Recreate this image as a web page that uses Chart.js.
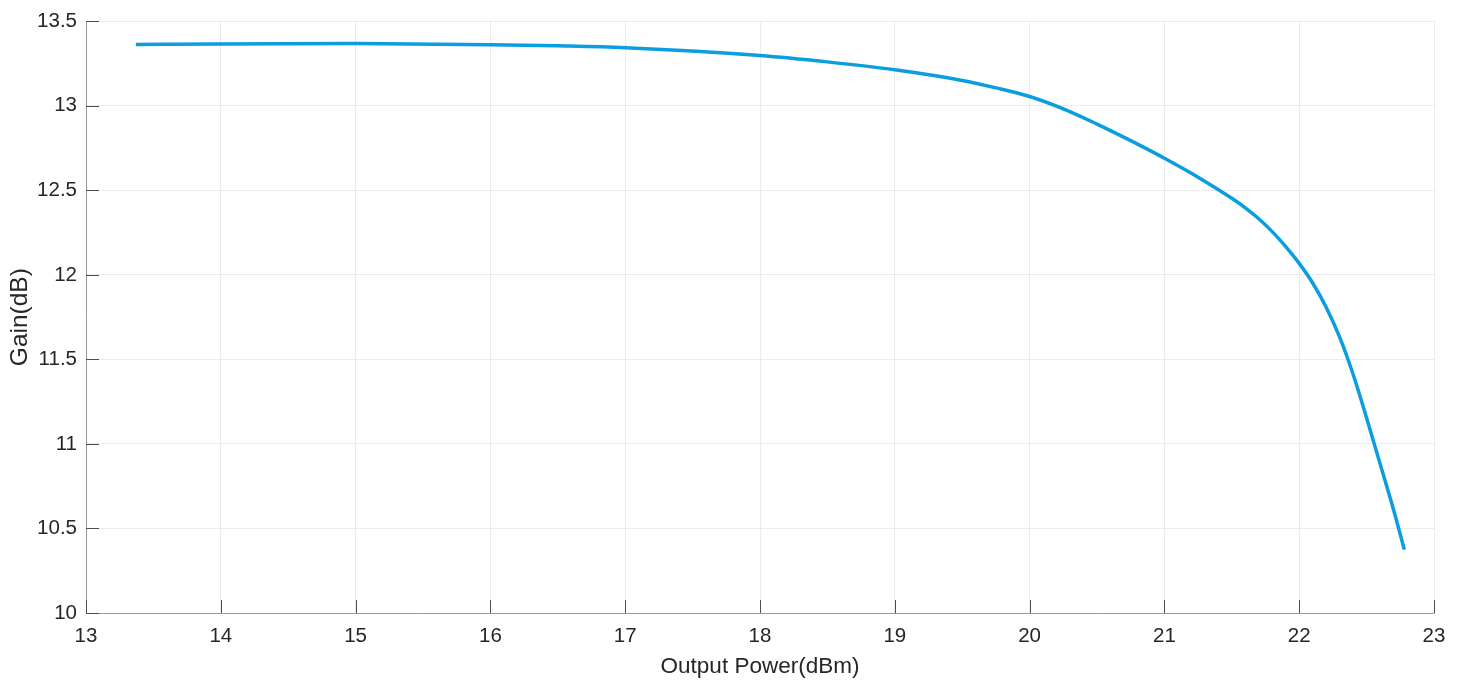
<!DOCTYPE html>
<html lang="en">
<head>
  <meta charset="UTF-8">
  <title>Gain vs Output Power</title>
  <script src="https://cdn.jsdelivr.net/npm/chart.js"></script>
  <style>
    body { margin: 0; background: #fff; }
    canvas { display: block; }
  </style>
</head>
<body>
  <canvas id="gain" width="1466" height="682"></canvas>

  <script>
    // measured sweep: output power (dBm) against gain (dB)
    const outputPower = [13.37, 14.0, 15.0, 16.0, 16.5, 17.0, 18.0, 18.5, 19.0, 19.5, 19.75, 20.0, 20.25, 20.5, 20.75,
      21.0, 21.25, 21.5, 21.6, 21.7, 21.8, 21.9, 22.0, 22.1, 22.2, 22.3, 22.4, 22.5, 22.6, 22.7, 22.78];
    const gain = [13.363, 13.366, 13.368, 13.362, 13.355, 13.344, 13.298, 13.26, 13.213, 13.15, 13.106, 13.055, 12.982, 12.892, 12.794,
      12.69, 12.578, 12.453, 12.397, 12.332, 12.256, 12.167, 12.068, 11.952, 11.809, 11.632, 11.412, 11.154, 10.883, 10.611, 10.375];
    const xTicks = [13, 14, 15, 16, 17, 18, 19, 20, 21, 22, 23];
    const yTicks = [10, 10.5, 11, 11.5, 12, 12.5, 13, 13.5];

    const family = "'Liberation Sans', Arial, sans-serif";
    const tickFont = { family, size: 20.5 };
    const ink = '#262626';

    // short tick marks pointing into the plot, matlab style
    const innerTicks = {
      id: 'innerTicks',
      afterDatasetsDraw(chart) {
        const { ctx, chartArea: a, scales: { x, y } } = chart;
        const len = 13;
        ctx.save();
        ctx.strokeStyle = '#4d4d4d';
        ctx.lineWidth = 1;
        ctx.beginPath();
        xTicks.forEach(v => {
          const px = Math.round(x.getPixelForValue(v)) + 0.5;
          ctx.moveTo(px, a.bottom);
          ctx.lineTo(px, a.bottom - len);
        });
        yTicks.forEach(v => {
          const py = Math.round(y.getPixelForValue(v)) + 0.5;
          ctx.moveTo(a.left, py);
          ctx.lineTo(a.left + len, py);
        });
        ctx.stroke();
        ctx.restore();
      }
    };

    new Chart(document.getElementById('gain'), {
      type: 'line',
      data: {
        datasets: [{
          data: outputPower.map((p, i) => ({ x: p, y: gain[i] })),
          borderColor: '#0a9ee0',
          borderWidth: 3.5,
          pointRadius: 0,
          cubicInterpolationMode: 'monotone',
          fill: false
        }]
      },
      options: {
        responsive: false,
        animation: false,
        layout: { padding: { top: 16, right: 32, left: 0, bottom: 0 } },
        plugins: { legend: { display: false }, tooltip: { enabled: false } },
        scales: {
          x: {
            type: 'linear',
            min: 13, max: 23,
            afterBuildTicks: s => { s.ticks = xTicks.map(v => ({ value: v })); },
            afterFit: s => { s.height = 69; },
            grid: { color: '#ebebeb', drawTicks: false },
            border: { color: '#9a9a9a' },
            ticks: { font: tickFont, color: ink, padding: 11, maxRotation: 0, callback: v => String(v) },
            title: { display: true, text: 'Output Power(dBm)', font: { family, size: 22.5 }, color: ink, padding: { top: 0, bottom: 2 } }
          },
          y: {
            type: 'linear',
            min: 10, max: 13.5,
            afterBuildTicks: s => { s.ticks = yTicks.map(v => ({ value: v })); },
            afterFit: s => { s.width = 86; },
            grid: { color: '#ebebeb', drawTicks: false },
            border: { color: '#9a9a9a' },
            ticks: { font: tickFont, color: ink, padding: 9, callback: v => String(v) },
            title: { display: true, text: 'Gain(dB)', font: { family, size: 24.5 }, color: ink, padding: { top: 6, bottom: 0 } }
          }
        }
      },
      plugins: [innerTicks]
    });
  </script>
</body>
</html>
